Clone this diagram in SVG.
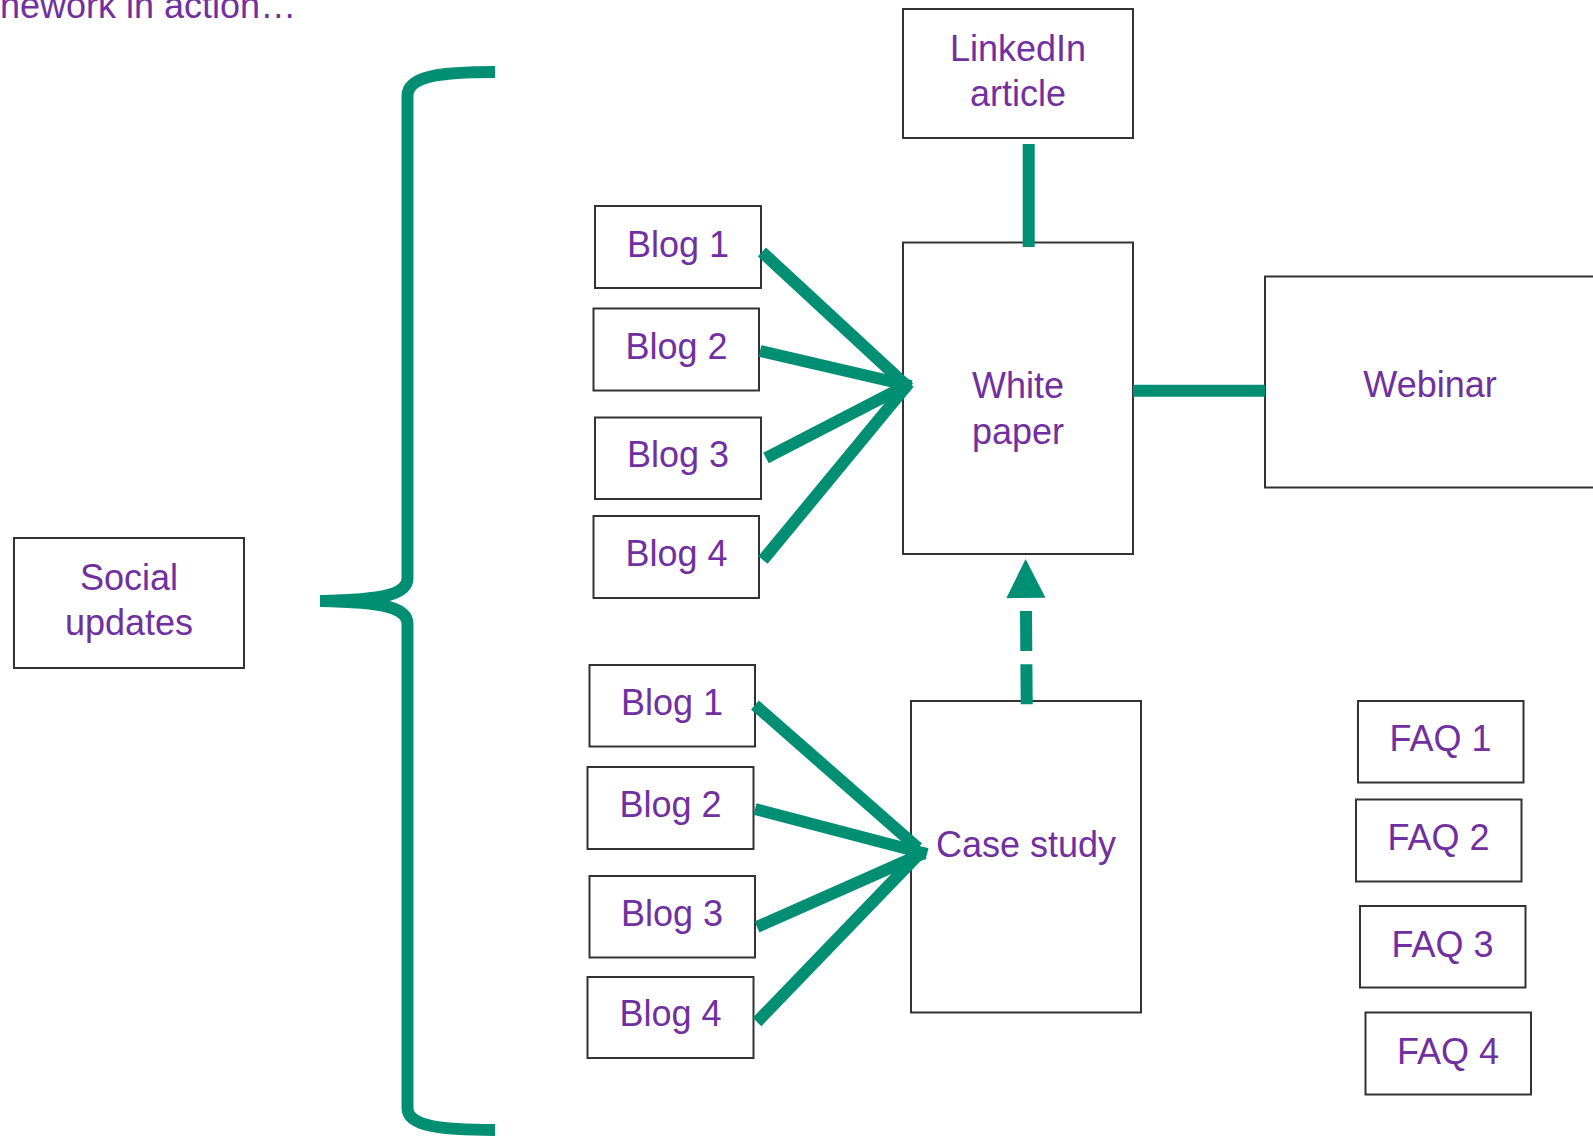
<svg xmlns="http://www.w3.org/2000/svg" width="1593" height="1139" viewBox="0 0 1593 1139">
<style>
.box{fill:#ffffff;stroke:#333333;stroke-width:2}
.lbl{font-family:"Liberation Sans",Arial,sans-serif;font-size:36px;fill:#7030A0;text-anchor:middle}
.con{fill:none;stroke:#008F73;stroke-width:12;stroke-linecap:butt}
</style>
<defs>
<marker id="head" markerUnits="userSpaceOnUse" markerWidth="60" markerHeight="44" refX="0" refY="0" orient="auto" overflow="visible">
<path d="M13,-19.6 L52,0 L13,19.6 Z" fill="#008F73"/>
</marker>
</defs>
<rect width="1593" height="1139" fill="#ffffff"/>
<text x="0" y="18" class="lbl" style="text-anchor:start">nework in action…</text>

<g id="social"><rect class="box" x="14" y="538" width="230" height="130"/><text class="lbl" x="129" y="590">Social</text><text class="lbl" x="129" y="635">updates</text></g>
<g id="linkedin"><rect class="box" x="903" y="9" width="230" height="129"/><text class="lbl" x="1018" y="61">LinkedIn</text><text class="lbl" x="1018" y="106">article</text></g>
<g id="whitepaper"><rect class="box" x="903" y="242.5" width="230" height="311.5"/><text class="lbl" x="1018" y="398">White</text><text class="lbl" x="1018" y="444">paper</text></g>
<g id="webinar"><rect class="box" x="1265" y="276.5" width="340" height="211"/><text class="lbl" x="1430" y="397">Webinar</text></g>
<g id="casestudy"><rect class="box" x="911" y="701" width="230" height="311.5"/><text class="lbl" x="1026" y="857">Case study</text></g>

<g id="blog1a"><rect class="box" x="595" y="206" width="166" height="82"/><text class="lbl" x="678" y="257">Blog 1</text></g>
<g id="blog2a"><rect class="box" x="593.5" y="308.5" width="165.5" height="82"/><text class="lbl" x="676.5" y="359">Blog 2</text></g>
<g id="blog3a"><rect class="box" x="595" y="417.5" width="166" height="81.5"/><text class="lbl" x="678" y="467">Blog 3</text></g>
<g id="blog4a"><rect class="box" x="593.5" y="516" width="165.5" height="82"/><text class="lbl" x="676.5" y="566">Blog 4</text></g>

<g id="blog1b"><rect class="box" x="589.5" y="665" width="165.5" height="81.5"/><text class="lbl" x="672" y="715">Blog 1</text></g>
<g id="blog2b"><rect class="box" x="587.5" y="767" width="166" height="82"/><text class="lbl" x="670.5" y="817">Blog 2</text></g>
<g id="blog3b"><rect class="box" x="589.5" y="876" width="165.5" height="81.5"/><text class="lbl" x="672" y="926">Blog 3</text></g>
<g id="blog4b"><rect class="box" x="587.5" y="977" width="166" height="81"/><text class="lbl" x="670.5" y="1026">Blog 4</text></g>

<g id="faq1"><rect class="box" x="1358" y="701" width="165.5" height="81.5"/><text class="lbl" x="1440.5" y="751">FAQ 1</text></g>
<g id="faq2"><rect class="box" x="1356" y="799.5" width="165.5" height="82"/><text class="lbl" x="1438.5" y="850">FAQ 2</text></g>
<g id="faq3"><rect class="box" x="1360" y="906" width="165.5" height="81.5"/><text class="lbl" x="1442.5" y="957">FAQ 3</text></g>
<g id="faq4"><rect class="box" x="1365.5" y="1012.5" width="165.5" height="82"/><text class="lbl" x="1448" y="1064">FAQ 4</text></g>

<g id="connectors">
<path class="con" d="M495,72 C440,72 407.5,76 407.5,96 L407.5,578 C407.5,594 385,600 320,601 M320,601 C385,602 407.5,608 407.5,624 L407.5,1108 C407.5,1126 440,1130 495,1130" stroke-width="13"/>
<line class="con" x1="1028.7" y1="144" x2="1028.7" y2="247" stroke-width="12.7"/>
<line class="con" x1="1133" y1="390.8" x2="1265" y2="390.8" stroke-width="13"/>
<line class="con" x1="762" y1="252" x2="909" y2="388"/>
<line class="con" x1="760" y1="351" x2="911" y2="386"/>
<line class="con" x1="766" y1="458" x2="909" y2="384"/>
<line class="con" x1="763" y1="560" x2="909" y2="383"/>
<line class="con" x1="755" y1="705" x2="918" y2="848"/>
<line class="con" x1="755" y1="809" x2="927" y2="854"/>
<line class="con" x1="757" y1="927" x2="924" y2="853"/>
<line class="con" x1="757" y1="1022" x2="918" y2="855"/>
<line class="con" x1="1026.7" y1="704.3" x2="1026" y2="611" stroke-width="13.3" stroke-dasharray="40 13.3" marker-end="url(#head)"/>
</g>
</svg>
